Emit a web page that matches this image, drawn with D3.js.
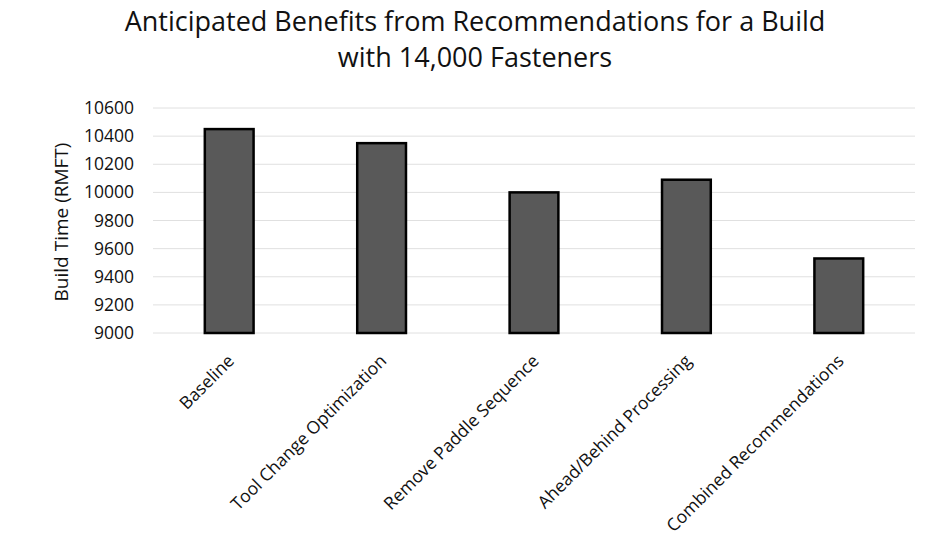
<!DOCTYPE html>
<html>
<head>
<meta charset="UTF-8">
<script src="https://d3js.org/d3.v7.min.js"></script>
<style>
  body { margin: 0; background: #fff; }
  svg text { font-family: "Open Sans", "Noto Sans", sans-serif; fill: #111; }
</style>
</head>
<body>
<svg id="chart" width="935" height="548"></svg>
<script>
// chart data
const categories = ["Baseline", "Tool Change Optimization", "Remove Paddle Sequence",
                    "Ahead/Behind Processing", "Combined Recommendations"];
const buildTimes = [10450, 10350, 10000, 10090, 9530];
const yTicks = [9000, 9200, 9400, 9600, 9800, 10000, 10200, 10400, 10600];
const titleLines = ["Anticipated Benefits from Recommendations for a Build", "with 14,000 Fasteners"];

const svg = d3.select("#chart");
const margin = { top: 108, right: 20, bottom: 215, left: 153 };
const width = 935 - margin.left - margin.right;
const height = 548 - margin.top - margin.bottom;

const x = d3.scaleBand().domain(categories).range([0, width]).paddingInner(0.68).paddingOuter(0.34);
const y = d3.scaleLinear().domain([9000, 10600]).range([height, 0]);

const g = svg.append("g").attr("transform", `translate(${margin.left},${margin.top})`);

// gridlines
g.append("g")
  .selectAll("line")
  .data(yTicks)
  .enter().append("line")
  .attr("x1", 0).attr("x2", width)
  .attr("y1", d => y(d)).attr("y2", d => y(d))
  .attr("stroke", "#e0e0e0").attr("stroke-width", 1);

// y axis
const yAxis = g.append("g")
  .call(d3.axisLeft(y).tickValues(yTicks).tickSize(0).tickPadding(19).tickFormat(d3.format("d")));
yAxis.select(".domain").remove();
yAxis.selectAll("text")
  .style("font-size", "17.5px")
  .style("font-family", "\"Open Sans\", sans-serif")
  .attr("fill", "#111");

// bars
g.selectAll("rect.bar")
  .data(buildTimes)
  .enter().append("rect")
  .attr("class", "bar")
  .attr("x", (d, i) => x(categories[i]))
  .attr("y", d => y(d))
  .attr("width", x.bandwidth())
  .attr("height", d => height - y(d))
  .attr("fill", "#595959")
  .attr("stroke", "#000")
  .attr("stroke-width", 2.5);

// x labels
g.append("g")
  .selectAll("text")
  .data(categories)
  .enter().append("text")
  .attr("transform", d => `translate(${x(d) + x.bandwidth() / 2 + 6},${height + 29}) rotate(-45)`)
  .attr("text-anchor", "end")
  .style("font-size", "17.5px")
  .text(d => d);

// y title
svg.append("text")
  .attr("transform", "translate(68,222) rotate(-90)")
  .attr("text-anchor", "middle")
  .style("font-size", "19px")
  .text("Build Time (RMFT)");

// chart title
svg.append("g")
  .selectAll("text")
  .data(titleLines)
  .enter().append("text")
  .attr("x", 475)
  .attr("y", (d, i) => 31 + i * 36)
  .attr("text-anchor", "middle")
  .style("font-size", "27px")
  .text(d => d);
</script>
</body>
</html>
